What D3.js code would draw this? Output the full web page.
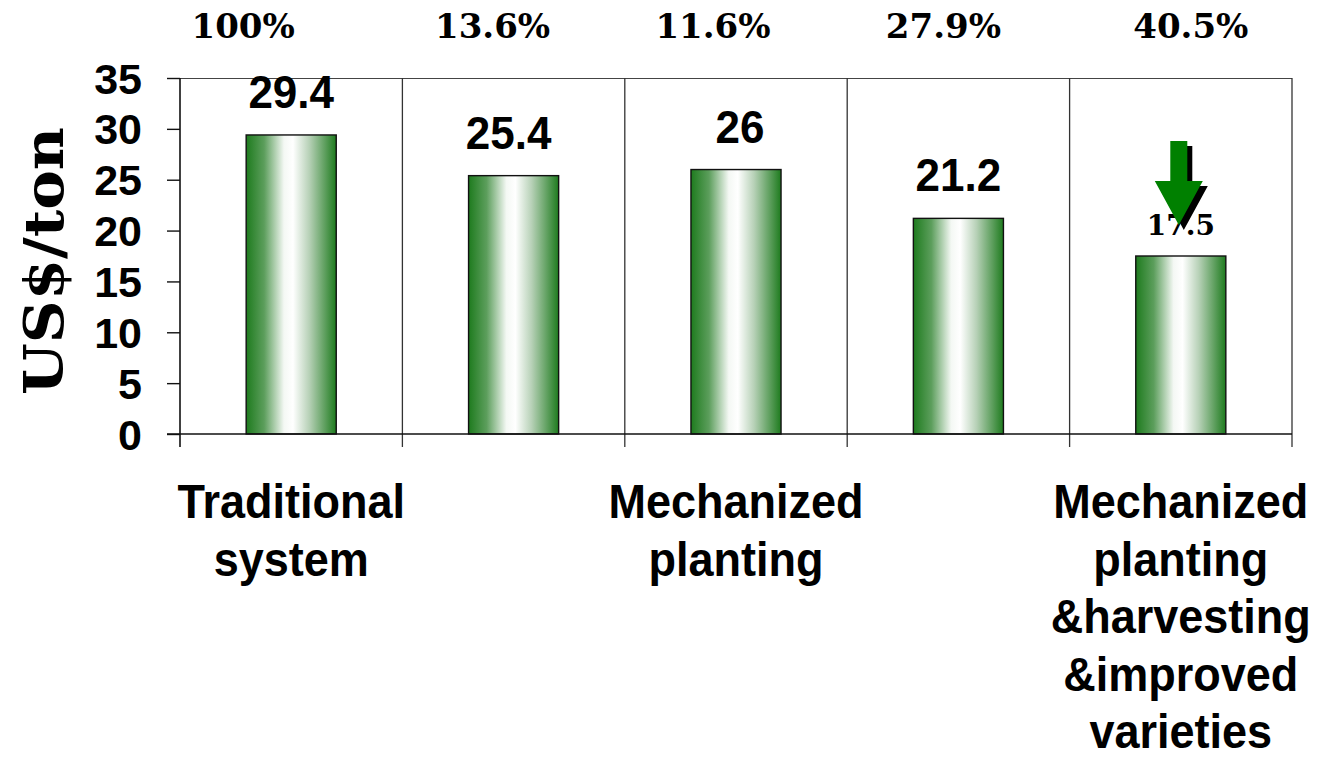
<!DOCTYPE html>
<html>
<head>
<meta charset="utf-8">
<script src="https://cdn.jsdelivr.net/npm/d3@7"></script>
<style>
  body { margin: 0; background: #fff; }
  svg { display: block; }
</style>
</head>
<body>
<svg id="chart" width="1326" height="759"></svg>
<script>
// Production cost per ton for each production system
const categoryIds = ["c1", "c2", "c3", "c4", "c5"];
const categoryLines = [
  ["Traditional", "system"],
  [],
  ["Mechanized", "planting"],
  [],
  ["Mechanized", "planting", "&harvesting", "&improved", "varieties"]
];
const costPerTon = [29.4, 25.4, 26, 21.2, 17.5];
const valueLabels = ["29.4", "25.4", "26", "21.2", "17.5"];
const reductionLabels = ["100%", "13.6%", "11.6%", "27.9%", "40.5%"];
const yTicks = [0, 5, 10, 15, 20, 25, 30, 35];
const yMax = 35;

// Layout
const plot = { left: 180, right: 1292, top: 78, bottom: 434 };
const reductionNudge = [-48, -21, -23, -15, 10];
const valueNudge = [0, -5, 4, 0, 0];
const SANS = "'Liberation Sans', Arial, sans-serif";
const SERIF = "'DejaVu Serif', serif";

const svg = d3.select("#chart");
svg.append("rect").attr("width", 1326).attr("height", 759).attr("fill", "#fff");

const x = d3.scaleBand().domain(categoryIds).range([plot.left, plot.right]).padding(0);
const y = d3.scaleLinear().domain([0, yMax]).range([plot.bottom, plot.top]);
const barW = x.bandwidth() * 0.405;

// Horizontal green-white-green shading for the bars
const defs = svg.append("defs");
const grad = defs.append("linearGradient").attr("id", "barShade")
  .attr("x1", "0%").attr("x2", "100%").attr("y1", "0%").attr("y2", "0%");
[[0, "#1e7b1e"], [0.2, "#5c9e5c"], [0.42, "#f4f8f4"], [0.52, "#ffffff"], [0.7, "#b7d1b7"], [1, "#1e7b1e"]]
  .forEach(([o, c]) => grad.append("stop").attr("offset", o).attr("stop-color", c));

// Plot frame and category separators
const frame = svg.append("g").attr("stroke", "#222").attr("fill", "none");
frame.append("line")
  .attr("x1", plot.left).attr("x2", plot.right)
  .attr("y1", y(yMax) + 0.5).attr("y2", y(yMax) + 0.5)
  .attr("stroke", "#444").attr("stroke-width", 1);
const bounds = categoryIds.map(d => x(d)).concat([x.range()[1]]);
frame.selectAll("line.sep").data(bounds.slice(1)).join("line")
  .attr("class", "sep")
  .attr("x1", d => d).attr("x2", d => d)
  .attr("y1", y(yMax)).attr("y2", y(0) + 13)
  .attr("stroke", "#333").attr("stroke-width", 1.3);

// Y axis
const yAxis = d3.axisLeft(y).tickValues(yTicks).tickSize(13).tickSizeOuter(0).tickPadding(25);
const gy = svg.append("g").attr("transform", `translate(${plot.left},0)`).call(yAxis);
gy.attr("font-size", null).attr("font-family", null);
gy.select(".domain").remove();
gy.append("line").attr("x1", 0).attr("x2", 0)
  .attr("y1", y(yMax)).attr("y2", y(0) + 13)
  .attr("stroke", "#111").attr("stroke-width", 1.6);
gy.selectAll(".tick line").attr("stroke", "#111").attr("stroke-width", 1.4);
gy.selectAll(".tick text")
  .attr("fill", "#000")
  .attr("font-family", SANS).attr("font-weight", "bold").attr("font-size", 43)
  .attr("dy", "0.35em");

// Bars
svg.append("g").selectAll("rect").data(costPerTon).join("rect")
  .attr("x", (d, i) => x(categoryIds[i]) + (x.bandwidth() - barW) / 2)
  .attr("y", d => y(d))
  .attr("width", barW)
  .attr("height", d => y(0) - y(d))
  .attr("fill", "url(#barShade)")
  .attr("stroke", "#111").attr("stroke-width", 1.4);

// Bottom axis line (drawn over bar bases)
svg.append("line")
  .attr("x1", plot.left - 13).attr("x2", plot.right)
  .attr("y1", y(0)).attr("y2", y(0))
  .attr("stroke", "#111").attr("stroke-width", 1.6);

// Value labels above bars
const cx = i => x(categoryIds[i]) + x.bandwidth() / 2;
const last = costPerTon.length - 1;
svg.append("g").selectAll("text").data(valueLabels).join("text")
  .attr("transform", (d, i) => i === last
    ? `translate(${cx(i)},${y(costPerTon[i]) - 21})`
    : `translate(${cx(i) + valueNudge[i]},${y(costPerTon[i]) - 27}) scale(1,1.05)`)
  .attr("text-anchor", "middle")
  .style("font-family", (d, i) => i === last ? SERIF : SANS)
  .style("font-weight", "bold")
  .style("font-size", (d, i) => i === last ? "28px" : "44px")
  .attr("fill", "#000")
  .text(d => d);

// Reduction percentages along the top
svg.append("g").selectAll("text").data(reductionLabels).join("text")
  .attr("x", (d, i) => cx(i) + reductionNudge[i])
  .attr("y", 38)
  .attr("text-anchor", "middle")
  .style("font-family", SERIF).style("font-weight", "bold").style("font-size", "34px")
  .attr("fill", "#000")
  .text(d => d);

// Down arrow with drop shadow over the last bar's label
const tipX = cx(last) - 2;
const tipY = y(costPerTon[last]) - 21 - 10;
const arrowPts = [
  [-8.5, -84], [8.5, -84], [8.5, -44], [24, -44], [0, 0], [-24, -44], [-8.5, -44]
];
const arrowPath = ox => "M" + arrowPts.map(p => [tipX + p[0] + ox, tipY + p[1] + ox].join(",")).join("L") + "Z";
svg.append("path").attr("d", arrowPath(5)).attr("fill", "#000");
svg.append("path").attr("d", arrowPath(0)).attr("fill", "#008000");

// Category labels
const catG = svg.append("g");
categoryLines.forEach((lines, i) => {
  lines.forEach((line, k) => {
    catG.append("text")
      .attr("transform", `translate(${cx(i)},${518 + k * 57.5}) scale(1,1.06)`)
      .attr("text-anchor", "middle")
      .style("font-family", SANS).style("font-weight", "bold").style("font-size", "45px")
      .attr("fill", "#000")
      .text(line);
  });
});

// Y axis title
svg.append("text")
  .attr("transform", `translate(63,261) rotate(-90) scale(1.08,1)`)
  .attr("text-anchor", "middle")
  .style("font-family", SERIF).style("font-weight", "bold").style("font-size", "55px")
  .attr("fill", "#000")
  .text("US$/ton");
</script>
</body>
</html>
